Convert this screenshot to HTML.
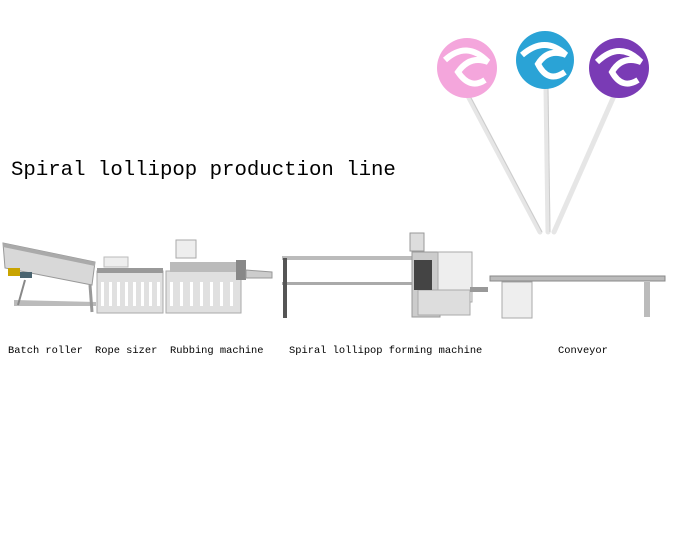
<!DOCTYPE html>
<html><head><meta charset="utf-8"><style>
html,body{margin:0;padding:0;background:#fff;}
body{width:680px;height:550px;position:relative;overflow:hidden;font-family:"Liberation Mono",monospace;}
.t{position:absolute;white-space:nowrap;color:#000;}
</style></head><body>
<svg width="680" height="550" style="position:absolute;left:0;top:0">
<g stroke="#e6e6e6" stroke-width="5" stroke-linecap="round">
<line x1="468" y1="96" x2="540" y2="232"/>
<line x1="546" y1="88" x2="548" y2="232"/>
<line x1="614" y1="96" x2="554" y2="232"/>
</g>
<g stroke="#ccc" stroke-width="1" fill="none">
<line x1="470" y1="96" x2="542" y2="232"/>
<line x1="548" y1="88" x2="550" y2="232"/>
</g>
<circle cx="467" cy="68" r="30" fill="#f4a6dc"/>
<path d="M445 60 Q467 40 488 62 Q470 55 458 72 Q470 90 485 80" stroke="#fff" stroke-width="6" fill="none"/>
<circle cx="545" cy="60" r="29" fill="#2aa3d6"/>
<path d="M522 55 Q545 35 566 55 Q548 48 538 64 Q548 84 565 72" stroke="#fff" stroke-width="6" fill="none"/>
<circle cx="619" cy="68" r="30" fill="#7a3bb5"/>
<path d="M597 62 Q620 40 641 62 Q622 55 612 72 Q622 90 638 80" stroke="#fff" stroke-width="6" fill="none"/>
<polygon points="3,243 95,262 92,285 5,268" fill="#d8d8d8" stroke="#999"/>
<polygon points="3,243 95,262 95,266 3,247" fill="#aaa"/>
<polygon points="14,300 96,302 96,306 14,306" fill="#bbb"/>
<line x1="25" y1="280" x2="18" y2="305" stroke="#888" stroke-width="2"/>
<line x1="90" y1="285" x2="92" y2="312" stroke="#999" stroke-width="3"/>
<rect x="8" y="268" width="12" height="8" fill="#c9a400"/>
<rect x="20" y="272" width="12" height="6" fill="#4a6470"/>
<rect x="97" y="271" width="66" height="42" fill="#e0e0e0" stroke="#aaa"/>
<rect x="104" y="257" width="24" height="10" fill="#eee" stroke="#bbb"/>
<rect x="97" y="268" width="66" height="5" fill="#999"/>
<g fill="#fff"><rect x="101" y="282" width="3" height="24"/><rect x="109" y="282" width="3" height="24"/><rect x="117" y="282" width="3" height="24"/><rect x="125" y="282" width="3" height="24"/><rect x="133" y="282" width="3" height="24"/><rect x="141" y="282" width="3" height="24"/><rect x="149" y="282" width="3" height="24"/><rect x="157" y="282" width="3" height="24"/></g>
<rect x="166" y="271" width="75" height="42" fill="#e0e0e0" stroke="#aaa"/>
<rect x="176" y="240" width="20" height="18" fill="#eee" stroke="#aaa"/>
<rect x="170" y="262" width="70" height="10" fill="#bbb"/>
<rect x="236" y="260" width="10" height="20" fill="#888"/>
<polygon points="246,270 272,272 272,278 246,278" fill="#ccc" stroke="#999"/>
<g fill="#fff"><rect x="170" y="282" width="3" height="24"/><rect x="180" y="282" width="3" height="24"/><rect x="190" y="282" width="3" height="24"/><rect x="200" y="282" width="3" height="24"/><rect x="210" y="282" width="3" height="24"/><rect x="220" y="282" width="3" height="24"/><rect x="230" y="282" width="3" height="24"/></g>
<rect x="282" y="256" width="130" height="4" fill="#bbb"/>
<rect x="282" y="282" width="130" height="3" fill="#aaa"/>
<rect x="283" y="258" width="4" height="60" fill="#555"/>
<rect x="410" y="233" width="14" height="18" fill="#ddd" stroke="#999"/>
<rect x="412" y="252" width="28" height="65" fill="#ccc" stroke="#999"/>
<rect x="438" y="252" width="34" height="50" fill="#eee" stroke="#aaa"/>
<rect x="418" y="290" width="52" height="25" fill="#ddd" stroke="#aaa"/>
<rect x="470" y="287" width="18" height="5" fill="#999"/>
<rect x="414" y="260" width="18" height="30" fill="#444"/>
<rect x="490" y="276" width="175" height="5" fill="#bbb" stroke="#888"/>
<rect x="502" y="282" width="30" height="36" fill="#eee" stroke="#aaa"/>
<rect x="644" y="282" width="6" height="35" fill="#bbb"/>
</svg>
<div class="t" style="left:11px;top:159px;font-size:20.7px;">Spiral lollipop production line</div>
<div class="t" style="left:8px;top:345px;font-size:10.4px;">Batch roller</div>
<div class="t" style="left:95px;top:345px;font-size:10.4px;">Rope sizer</div>
<div class="t" style="left:170px;top:345px;font-size:10.4px;">Rubbing machine</div>
<div class="t" style="left:289px;top:345px;font-size:10.4px;">Spiral lollipop forming machine</div>
<div class="t" style="left:558px;top:345px;font-size:10.4px;">Conveyor</div>
</body></html>
